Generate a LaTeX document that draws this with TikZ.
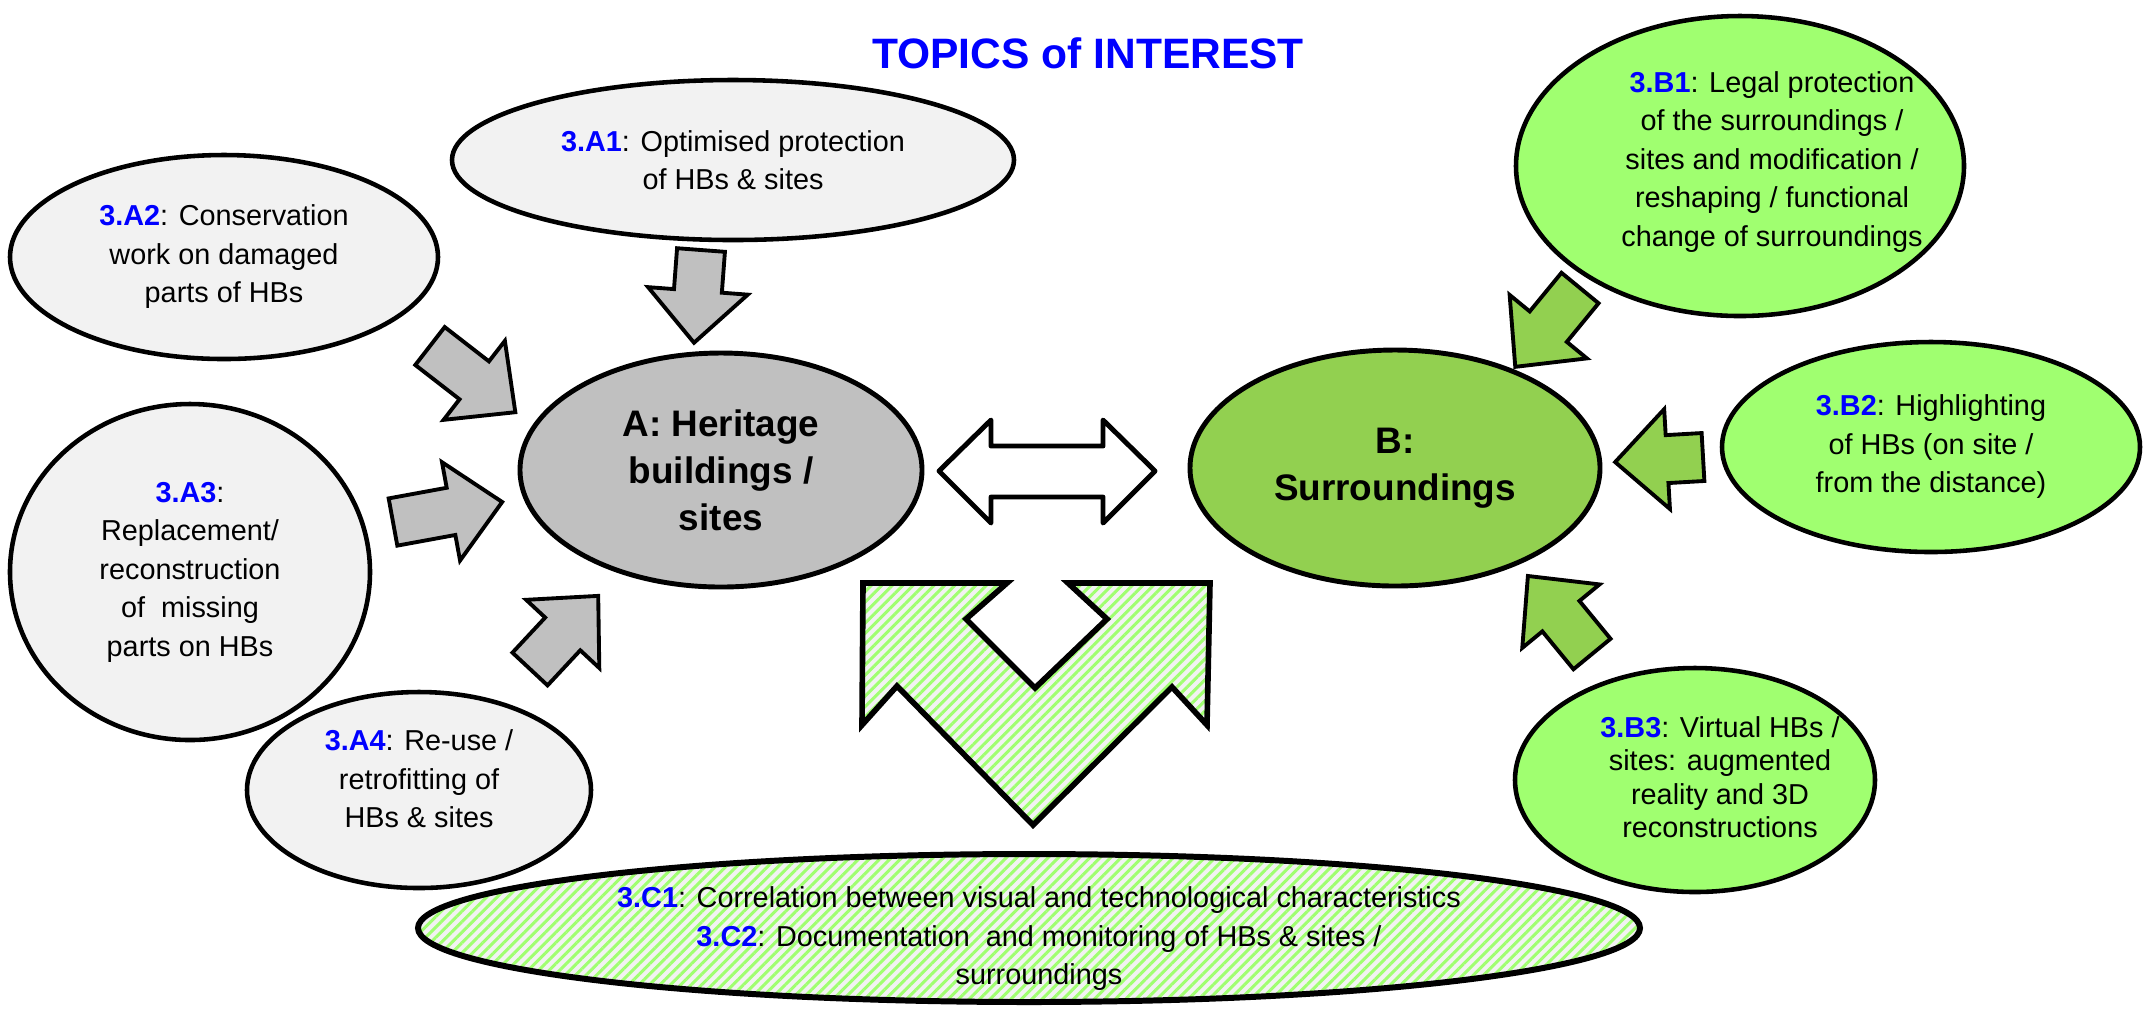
\documentclass[tikz,border=0pt]{standalone}
\usepackage{fontspec}
\setmainfont{Liberation Sans}
\usetikzlibrary{shapes.geometric,patterns.meta}

\newdimen\pxu \pxu=0.1mm
\definecolor{idblue}{RGB}{0,0,255}
\definecolor{lgray}{RGB}{242,242,242}
\definecolor{mgray}{RGB}{192,192,192}
\definecolor{bgreen}{RGB}{146,208,80}
\definecolor{lgreen}{RGB}{160,255,112}
\newcommand{\tid}[1]{\textcolor{idblue}{\textbf{#1}}}

% block arrow along +x, tail at the origin, #1 = length
\tikzset{
	pics/blockarrow/.style={code={
		\draw[pic actions] (0,-24) -- ({#1-52},-24) -- ({#1-52},-50) -- (#1,0)
			-- ({#1-52},50) -- ({#1-52},24) -- (0,24) -- cycle;
	}}
}

\begin{document}
\begin{tikzpicture}[x=0.1mm, y=-0.1mm,
		topic text/.style={align=center, inner sep=0pt, font=\fontsize{8.2pt}{10.95pt}\selectfont},
		topic/.style={ellipse, draw=black, line width=1.3pt, topic text},
		topic A/.style={topic, fill=lgray},
		topic B/.style={topic, fill=lgreen},
		core/.style={ellipse, draw=black, line width=1.4pt, inner sep=0pt, align=center,
			font=\fontsize{10.5pt}{13.4pt}\selectfont\bfseries},
		hatched/.style={preaction={fill=lgray},
			pattern={Lines[angle=45,distance=2.1pt,line width=0.85pt]}, pattern color=lgreen, draw=black},
		gray arrow/.style={fill=mgray, draw=black, line width=1.1pt},
		green arrow/.style={fill=bgreen, draw=black, line width=1.1pt}
	]
	\useasboundingbox (0,0) rectangle (2148,1008);

	\node[font=\fontsize{12.1pt}{14pt}\selectfont\bfseries, text=idblue] (title) at (1088,53) {TOPICS of INTEREST};

	% the two cores
	\node[core, fill=mgray, minimum width=402\pxu, minimum height=234\pxu] (A) at (721,470)
		{A: Heritage\\buildings /\\sites};
	\node[core, fill=bgreen, minimum width=410\pxu, minimum height=236\pxu] (B) at (1395,468)
		{B:\\Surroundings};

	% topics around A
	\node[topic A, minimum width=562\pxu, minimum height=160\pxu] (A1) at (733,160)
		{\tid{3.A1}: Optimised protection\\of HBs \& sites};
	\node[topic A, minimum width=428\pxu, minimum height=204\pxu] (A2) at (224,257)
		{\tid{3.A2}: Conservation\\work on damaged\\parts of HBs};
	\node[topic A, minimum width=360\pxu, minimum height=336\pxu] (A3) at (190,572)
		{\tid{3.A3}:\\Replacement/\\reconstruction\\of~ missing\\parts on HBs};
	\node[topic A, minimum width=344\pxu, minimum height=196\pxu] (A4) at (419,790) {};
	\node[topic text] (A4text) at (419,779)
		{\tid{3.A4}: Re-use /\\retrofitting of\\HBs \& sites};

	% topics around B
	\node[topic B, minimum width=448\pxu, minimum height=300\pxu] (B1) at (1740,166) {};
	\node[topic text] (B1text) at (1772,162)
		{\tid{3.B1}: Legal protection\\of the surroundings /\\sites and modification /\\reshaping / functional\\change of surroundings};
	\node[topic B, minimum width=418\pxu, minimum height=210\pxu] (B2) at (1931,447)
		{\tid{3.B2}: Highlighting\\of HBs (on site /\\from the distance)};
	\node[topic B, minimum width=360\pxu, minimum height=224\pxu] (B3) at (1695,780) {};
	\node[topic text, font=\fontsize{8.2pt}{9.5pt}\selectfont] (B3text) at (1720,777)
		{\tid{3.B3}: Virtual HBs /\\sites: augmented\\reality and 3D\\reconstructions};

	% common topics
	\node[ellipse, hatched, line width=1.7pt, minimum width=1222\pxu, minimum height=148\pxu] (C) at (1029,928) {};
	\node[topic text] (Ctext) at (1039,939)
		{\tid{3.C1}: Correlation between visual and technological characteristics\\
		\tid{3.C2}: Documentation~ and monitoring of HBs \& sites /\\surroundings};

	% arrows into A
	\pic[rotate=-94.3, gray arrow] at (701,250) {blockarrow=93};
	\pic[rotate=-37.8, gray arrow] at (430,346) {blockarrow=108};
	\pic[rotate=10.4, gray arrow] at (393,522) {blockarrow=111};
	\pic[rotate=47, gray arrow] at (530,669) {blockarrow=100};

	% arrows into B
	\pic[rotate=-129.4, green arrow] at (1580,288) {blockarrow=102};
	\pic[rotate=183.3, green arrow] at (1703,457) {blockarrow=88};
	\pic[rotate=129.4, green arrow] at (1592,654) {blockarrow=101};

	% A <-> B
	\draw[fill=white, line width=1.4pt, line join=round] (939,471) -- (991,420) -- (991,446) -- (1103,446)
		-- (1103,420) -- (1155,471) -- (1103,523) -- (1103,497) -- (991,497) -- (991,523) -- cycle;

	% two-headed chevron up to A and B
	\draw[hatched, line width=1.6pt] (863,583) -- (1007,583) -- (966,619) -- (1035,688) -- (1107,619)
		-- (1068,583) -- (1210,583) -- (1207,725) -- (1172,687) -- (1033,825) -- (897,686)
		-- (862,725) -- cycle;
\end{tikzpicture}
\end{document}
